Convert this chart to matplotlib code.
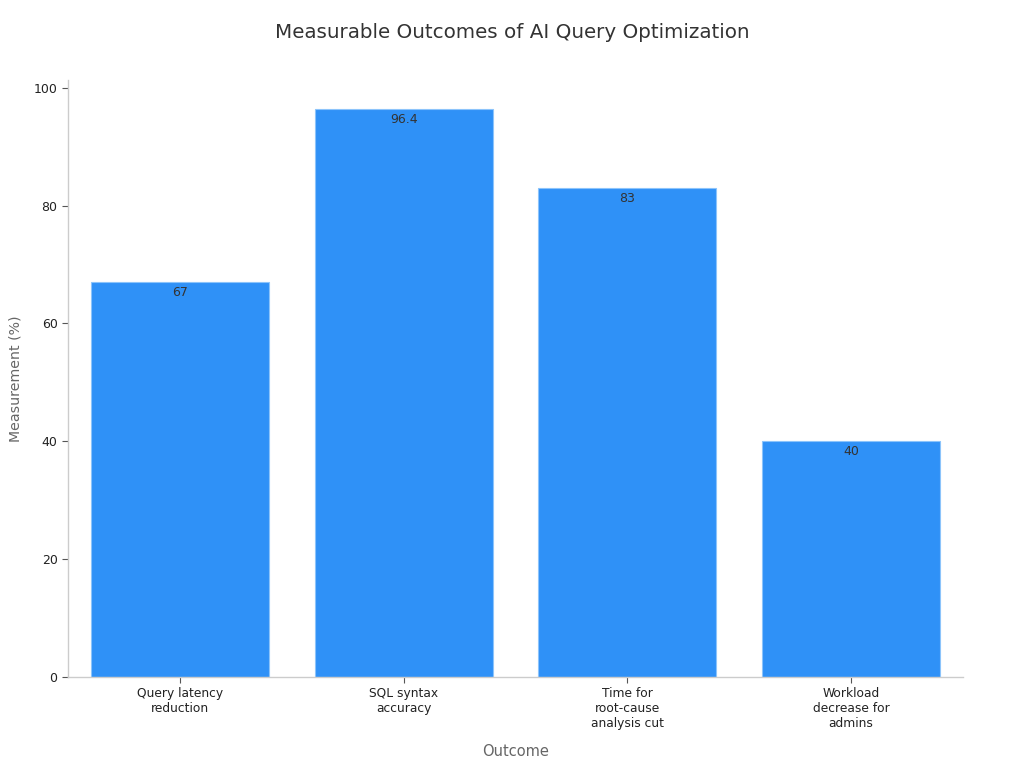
import matplotlib
matplotlib.use("Agg")
import matplotlib.pyplot as plt

categories = [
    "Query latency\nreduction",
    "SQL syntax\naccuracy",
    "Time for\nroot-cause\nanalysis cut",
    "Workload\ndecrease for\nadmins",
]
values = [67, 96.4, 83, 40]
value_labels = ["67", "96.4", "83", "40"]
y_ticks = [0, 20, 40, 60, 80, 100]

plt.rcParams["font.family"] = ["DejaVu Sans"]

fig = plt.figure(figsize=(10.24, 7.68), dpi=100)
ax = fig.add_axes([0.0664, 0.1185, 0.8740, 0.7773])

x = list(range(len(categories)))
bars = ax.bar(x, values, width=0.795, color="#2f91f7", edgecolor="#8cc4fb", linewidth=0.8)

for xi, v, lab in zip(x, values, value_labels):
    ax.text(xi, v - 0.7, lab, ha="center", va="top", fontsize=9, color="#333333")

ax.set_xlim(-0.5, len(categories) - 0.5)
ax.set_ylim(0, 101.3)
ax.set_xticks(x)
ax.set_xticklabels(categories, fontsize=8.8, color="#222222")
ax.set_yticks(y_ticks)
ax.set_yticklabels([str(t) for t in y_ticks], fontsize=9, color="#222222")

for side in ["top", "right"]:
    ax.spines[side].set_visible(False)
for side in ["left", "bottom"]:
    ax.spines[side].set_color("#cccccc")
    ax.spines[side].set_linewidth(1)
ax.tick_params(axis="both", colors="#555555", length=4, width=0.8, labelcolor="#222222")

ax.set_xlabel("Outcome", fontsize=10.5, color="#666666", labelpad=10)
ax.set_ylabel("Measurement (%)", fontsize=10.2, color="#666666", labelpad=8)
fig.suptitle("Measurable Outcomes of AI Query Optimization", fontsize=14.3, color="#333333", y=0.97)

fig.savefig("out.png", dpi=100)
